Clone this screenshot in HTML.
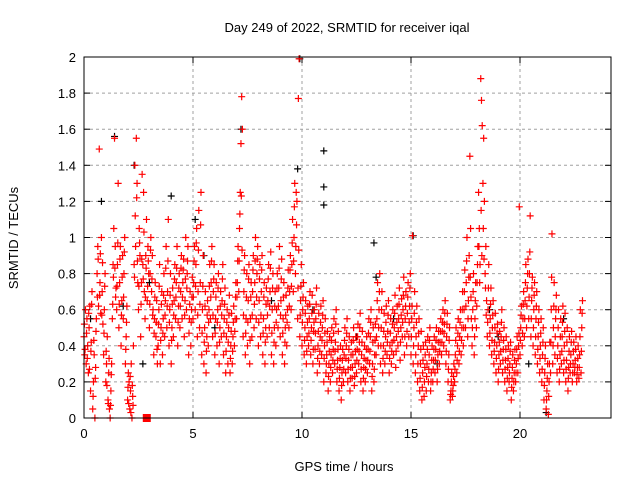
<!DOCTYPE html>
<html><head><meta charset="utf-8"><style>
html,body{margin:0;padding:0;background:#fff}
svg{display:block;font-family:"Liberation Sans",sans-serif}
</style></head><body>
<svg id="chart" width="640" height="480" xmlns="http://www.w3.org/2000/svg">
<rect width="640" height="480" fill="#fff"/>
<text x="347" y="32" font-size="13" text-anchor="middle">Day 249 of 2022, SRMTID for receiver iqal</text>
<text x="344" y="471" font-size="13" text-anchor="middle">GPS time / hours</text>
<text transform="translate(18,238) rotate(-90)" font-size="13" text-anchor="middle">SRMTID / TECUs</text>
<g id="grid"></g>
<g id="ticks"></g>
<g id="black"></g>
<g id="red"></g>
<rect x="84" y="57" width="527" height="361" fill="none" stroke="#000" stroke-width="1"/>
</svg>
<script>
const xTicks=[0,5,10,15,20];
const yTicks=[0,0.2,0.4,0.6,0.8,1,1.2,1.4,1.6,1.8,2];
const yTickLabels=["0","0.2","0.4","0.6","0.8","1","1.2","1.4","1.6","1.8","2"];
const binStart=0, binWidth=0.1;
const redBins="0.45,0.35,0.60;0.30,0.55,0.40;0.25,0.50,0.62;0.15,0.42,0.70;0.05,0.20,0.35;0.00,0.28,0.55;0.80,0.95,0.62;1.49,0.75,0.58;1.00,0.70,0.52;0.35,0.60,0.80;0.20,0.30,0.45;0.10,0.25,0.05;0.00,0.15,0.30;0.55,0.85,1.05;1.55,0.95,0.72;0.60,0.85,1.30;0.50,0.75,0.95;0.40,0.65,0.90;0.55,0.80,1.0;0.30,0.45,0.62;0.10,0.25,0.20;0.05,0.15,0.30;0.00,0.12,0.40;0.85,1.40,0.95;1.55,1.30,0.75;0.60,1.05,0.90;0.45,0.75,1.35;0.85,1.25,0.70;0.55,0.90,1.10;0.65,0.95,0.80;0.50,0.80,1.00;0.70,0.90,0.60;0.35,0.55,0.75;0.45,0.65,0.30;0.40,0.60,0.85;0.30,0.50,0.70;0.35,0.55,0.80;0.45,0.65,0.95;0.50,0.70,1.10;0.40,0.60,0.80;0.30,0.50,0.72;0.45,0.65,0.85;0.55,0.75,0.95;0.40,0.62,0.80;0.50,0.70,0.90;0.55,0.75,0.88;0.45,0.65,1.00;0.60,0.80,0.95;0.35,0.55,0.70;0.40,0.60,0.78;0.55,0.75,0.95;0.60,0.85,1.05;0.45,0.70,1.15;0.50,0.75,1.25;0.35,0.60,0.90;0.30,0.50,0.70;0.25,0.45,0.65;0.40,0.60,0.85;0.55,0.75,0.95;0.45,0.70,0.85;0.35,0.55,0.75;0.40,0.60,0.80;0.30,0.50,0.70;0.45,0.65,0.85;0.35,0.55,0.72;0.25,0.45,0.60;0.30,0.50,0.68;0.25,0.40,0.58;0.30,0.45,0.62;0.40,0.55,0.75;0.55,0.75,0.95;0.70,1.05,1.25;1.52,1.78,1.60;0.45,0.70,0.90;0.35,0.55,0.80;0.40,0.65,0.85;0.30,0.55,0.75;0.45,0.70,0.90;0.50,0.75,1.00;0.55,0.80,0.95;0.40,0.65,0.85;0.45,0.70,0.90;0.35,0.55,0.75;0.30,0.50,0.72;0.45,0.65,0.85;0.50,0.70,0.92;0.35,0.60,0.80;0.30,0.50,0.70;0.40,0.60,0.80;0.50,0.72,0.95;0.45,0.65,0.88;0.35,0.55,0.75;0.30,0.50,0.68;0.40,0.60,0.82;0.50,0.70,0.90;0.60,0.85,1.10;0.70,1.00,1.30;0.80,1.25,1.20;0.55,1.77,1.99;0.45,0.65,0.85;0.40,0.60,0.75;0.35,0.50,0.65;0.30,0.45,0.62;0.40,0.55,0.70;0.35,0.50,0.68;0.30,0.48,0.60;0.38,0.55,0.72;0.25,0.40,0.58;0.30,0.45,0.62;0.35,0.50,0.65;0.20,0.40,0.55;0.25,0.35,0.48;0.15,0.30,0.45;0.20,0.35,0.50;0.25,0.38,0.55;0.30,0.42,0.60;0.20,0.32,0.48;0.15,0.28,0.40;0.10,0.25,0.38;0.20,0.35,0.50;0.25,0.40,0.55;0.20,0.32,0.45;0.15,0.28,0.42;0.22,0.35,0.50;0.18,0.30,0.45;0.25,0.38,0.52;0.30,0.42,0.58;0.20,0.35,0.48;0.15,0.28,0.40;0.20,0.32,0.45;0.25,0.38,0.55;0.30,0.45,0.60;0.15,0.30,0.50;0.20,0.35,0.52;0.35,0.55,0.75;0.40,0.60,0.80;0.30,0.50,0.70;0.25,0.40,0.58;0.30,0.45,0.62;0.35,0.48,0.65;0.25,0.40,0.55;0.30,0.42,0.60;0.35,0.50,0.68;0.28,0.45,0.62;0.40,0.55,0.72;0.32,0.50,0.66;0.45,0.60,0.78;0.35,0.55,0.70;0.40,0.58,0.75;0.45,0.62,0.80;0.35,0.55,1.01;0.30,0.50,0.70;0.25,0.45,0.62;0.20,0.40,0.55;0.15,0.30,0.48;0.10,0.25,0.40;0.12,0.28,0.42;0.15,0.30,0.45;0.20,0.35,0.50;0.15,0.25,0.40;0.20,0.32,0.45;0.25,0.38,0.50;0.20,0.35,0.48;0.30,0.42,0.55;0.35,0.48,0.60;0.40,0.52,0.65;0.30,0.45,0.58;0.20,0.35,0.50;0.10,0.15,0.25;0.12,0.18,0.30;0.20,0.35,0.50;0.25,0.40,0.55;0.30,0.45,0.60;0.35,0.50,0.70;0.40,0.60,0.82;0.50,0.75,1.00;0.45,0.65,0.90;1.45,1.05,0.55;0.40,0.60,0.80;0.35,0.55,0.75;0.50,0.75,0.95;1.25,1.05,0.85;1.88,1.76,1.62;1.30,1.55,1.20;0.80,0.95,0.65;0.45,0.60,0.85;0.40,0.55,0.72;0.35,0.50,0.65;0.30,0.42,0.58;0.25,0.40,0.52;0.20,0.35,0.48;0.30,0.45,0.60;0.25,0.38,0.50;0.20,0.32,0.45;0.15,0.28,0.40;0.20,0.30,0.42;0.10,0.22,0.35;0.15,0.25,0.38;0.20,0.30,0.45;0.25,0.40,1.17;0.35,0.50,0.62;0.40,0.55,0.70;0.45,0.65,0.85;0.50,0.72,0.88;0.55,0.80,1.12;0.45,0.65,0.78;0.40,0.60,0.75;0.35,0.55,0.70;0.30,0.45,0.60;0.25,0.40,0.55;0.20,0.35,0.50;0.10,0.25,0.40;0.05,0.15,0.30;0.02,0.20,0.42;0.25,0.60,1.02;0.30,0.50,0.75;0.35,0.55,0.68;0.25,0.40,0.60;0.20,0.35,0.55;0.30,0.45,0.62;0.25,0.40,0.58;0.20,0.32,0.50;0.15,0.28,0.45;0.25,0.35,0.48;0.20,0.30,0.42;0.25,0.32,0.45;0.20,0.28,0.40;0.22,0.35,0.60;0.25,0.50,0.65";
const redBins2=".52,.38;.47,.33;.58,.27;.37,.63;.12,.43;.22,.48;.67,.88;.68,.91;.57,.86;.47,.73;.37,.18;.08,.33;.07,.24;.63,.78;.83,.67;.73,.97;.63,.88;.57,.78;.67,.92;.38,.53;.17,.08;.23,.03;.18,.07;.78,1.12;1.22,.87;.73,.97;.63,.88;.77,1.03;.67,.83;.73,.87;.63,.93;.77,.57;.47,.67;.53,.38;.52,.73;.43,.63;.47,.68;.57,.83;.62,.87;.53,.68;.43,.63;.57,.77;.67,.83;.53,.72;.62,.83;.67,.82;.57,.77;.72,.87;.47,.63;.53,.67;.67,.87;.73,.97;.57,.93;.63,1.07;.47,.73;.42,.62;.37,.57;.53,.73;.67,.87;.57,.77;.47,.67;.53,.72;.42,.62;.57,.77;.47,.63;.37,.53;.42,.57;.33,.48;.37,.53;.48,.67;.67,.87;.87,1.13;1.23,.93;.57,.82;.47,.67;.53,.77;.43,.67;.57,.82;.63,.87;.67,.88;.53,.77;.57,.82;.47,.67;.42,.63;.57,.77;.62,.83;.47,.72;.42,.62;.53,.72;.62,.83;.57,.77;.47,.67;.42,.57;.53,.72;.62,.82;.73,.97;.87,1.17;.95,1.07;.72,.93;.57,.73;.53,.67;.43,.58;.37,.53;.47,.63;.43,.58;.38,.53;.47,.63;.33,.48;.37,.53;.43,.57;.33,.47;.30,.42;.23,.37;.28,.43;.32,.47;.37,.52;.27,.38;.22,.33;.18,.32;.27,.43;.33,.47;.27,.38;.22,.35;.28,.43;.23,.37;.32,.45;.37,.50;.27,.42;.22,.33;.27,.38;.32,.47;.37,.53;.23,.42;.27,.43;.45,.65;.50,.70;.40,.60;.33,.48;.37,.53;.42,.57;.33,.47;.37,.52;.43,.58;.37,.53;.48,.63;.42,.57;.53,.68;.45,.62;.48,.67;.53,.72;.45,.62;.40,.58;.35,.53;.30,.47;.22,.38;.17,.32;.20,.35;.23,.38;.27,.43;.20,.32;.27,.38;.32,.43;.27,.42;.37,.48;.42,.53;.47,.58;.37,.52;.27,.43;.13,.20;.15,.23;.27,.43;.32,.47;.37,.53;.43,.60;.50,.70;.62,.87;.55,.78;.78,.67;.50,.70;.45,.65;.62,.85;.95,.75;1.15,.90;1.05,.88;.72,.57;.53,.72;.47,.63;.43,.57;.37,.50;.33,.47;.27,.42;.37,.53;.32,.43;.27,.38;.22,.33;.25,.37;.17,.28;.20,.32;.25,.38;.33,.47;.43,.57;.47,.63;.55,.75;.62,.80;.67,.92;.55,.72;.50,.68;.45,.62;.38,.53;.33,.47;.27,.42;.18,.33;.10,.22;.12,.30;.42,.78;.40,.62;.45,.60;.33,.50;.27,.45;.37,.53;.32,.48;.27,.42;.22,.37;.30,.42;.25,.37;.28,.38;.24,.33;.28,.45;.37,.58";
const blackT=[0.3,0.8,1.4,2.3,4.0,5.1,7.2,9.8,9.9,11.0,11.0,11.0,13.3,13.4,15.1,14.2,12.5,18.6,20.4,21.2,3.0,6.0,8.6,10.5,16.2,19.0,22.0,5.5,2.7,1.8];
const blackV=[0.55,1.2,1.56,1.4,1.23,1.1,1.6,1.38,1.99,1.48,1.28,1.18,0.97,0.78,1.01,0.55,0.45,0.6,0.3,0.03,0.75,0.5,0.65,0.6,0.3,0.45,0.55,0.9,0.3,0.62];
const squareT=[2.88], squareV=[0];

const X0=84,X1=611,Y0=418,Y1=57,XMAX=(611-84)/21.8,YMAX=2;
const sx=t=>X0+t/XMAX*(X1-X0);
const sy=v=>Y0-v/YMAX*(Y0-Y1);
const NS="http://www.w3.org/2000/svg";
function mk(tag,attrs,parent){const e=document.createElementNS(NS,tag);for(const k in attrs)e.setAttribute(k,attrs[k]);parent.appendChild(e);return e;}
const grid=document.getElementById('grid'),ticks=document.getElementById('ticks');
xTicks.forEach(t=>{const x=sx(t);
 if(t>0){const g=mk('line',{x1:x,x2:x,y1:Y1,y2:Y0,stroke:'#a0a0a0','stroke-dasharray':'3,3'},grid);
 
 }
 mk('line',{x1:x,x2:x,y1:Y0,y2:Y0-6,stroke:'#000'},ticks);
 mk('line',{x1:x,x2:x,y1:Y1,y2:Y1+6,stroke:'#000'},ticks);
 const l=mk('text',{x:x,y:Y0+20,'font-size':13,'text-anchor':'middle'},ticks);l.textContent=t;
 
 });
yTicks.forEach((v,i)=>{const y=sy(v);
 if(v>0&&v<2){const g=mk('line',{x1:X0,x2:X1,y1:y,y2:y,stroke:'#a0a0a0','stroke-dasharray':'3,3'},grid);
 
 }
 mk('line',{x1:X0,x2:X0+6,y1:y,y2:y,stroke:'#000'},ticks);
 mk('line',{x1:X1,x2:X1-6,y1:y,y2:y,stroke:'#000'},ticks);
 const l=mk('text',{x:X0-8,y:y+5,'font-size':13,'text-anchor':'end'},ticks);l.textContent=yTickLabels[i];
 
 });
function plus(t,v,col,parent){const x=sx(t),y=sy(v);
 const p=mk('path',{d:`M${x-3.5},${y}h7M${x},${y-3.5}v7`,stroke:col,'stroke-width':1.2,fill:'none'},parent);
 
 }
const black=document.getElementById('black');
blackT.forEach((t,i)=>plus(t,blackV[i],'#000',black));
const red=document.getElementById('red');
redBins.split(';').forEach((g,i)=>{g.split(',').forEach((s,k)=>{const t=binStart+i*binWidth+k*binWidth/3;plus(t,parseFloat(s),'#f00',red);});});
redBins2.split(';').forEach((g,i)=>{g.split(',').forEach((s,k)=>{const t=binStart+i*binWidth+binWidth/6+k*binWidth/3;plus(t,parseFloat(s),'#f00',red);});});
squareT.forEach((t,i)=>{const r=mk('rect',{x:sx(t)-4,y:sy(squareV[i])-4,width:8,height:8,fill:'#f00'},red);
 
 });
</script>
</body></html>
